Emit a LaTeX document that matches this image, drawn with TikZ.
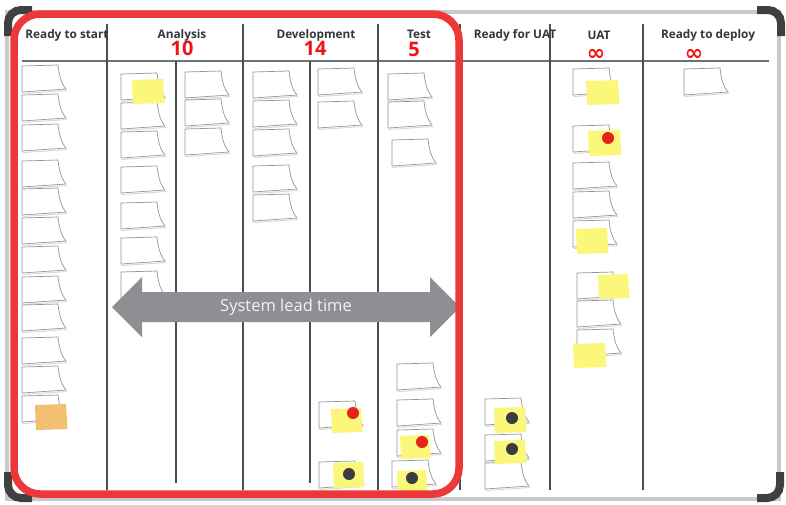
\documentclass[tikz,border=0pt]{standalone}
\usepackage{fontspec}
\setmainfont{Open Sans}
\newfontfamily\symfont{DejaVu Sans}
\definecolor{boardgray}{RGB}{201,201,201}
\definecolor{capgray}{RGB}{64,64,64}
\definecolor{linecol}{RGB}{70,80,85}
\definecolor{hdrline}{RGB}{105,115,120}
\definecolor{hdrtext}{RGB}{50,56,60}
\definecolor{numred}{RGB}{240,20,20}
\definecolor{frame}{RGB}{236,56,56}
\definecolor{notegray}{RGB}{150,150,150}
\definecolor{shadowgray}{RGB}{215,215,215}
\definecolor{yel}{RGB}{251,247,122}
\definecolor{orange}{RGB}{240,192,112}
\definecolor{pinred}{RGB}{228,34,30}
\definecolor{pinblack}{RGB}{58,60,64}
\definecolor{arrowcol}{RGB}{142,143,147}
\definecolor{arrtextcol}{RGB}{242,242,242}
\tikzset{
  notestyle/.style={draw=notegray, fill=white, line width=0.7pt},
  noteshadow/.style={draw=shadowgray, line width=0.9pt},
  wnote/.pic={
    \draw[noteshadow] (1,2) -- (1,27.5) -- (45,24.5);
    \filldraw[notestyle] (0,0) -- (36,-1) .. controls (37,9) and (39,17) .. (44,23) -- (0,26) -- cycle;
  },
  colline/.style={draw=linecol, line width=1.3pt},
  hdr/.style={text=hdrtext, font=\bfseries\fontsize{11.8}{13}\selectfont, inner sep=0pt},
  num/.style={text=numred, font=\bfseries\fontsize{20}{22}\selectfont, inner sep=0pt, anchor=base, text height=14pt, text depth=0pt},
  inf/.style={text=numred, font=\symfont\bfseries\fontsize{22}{22}\selectfont, inner sep=0pt, anchor=base, text height=12pt, text depth=0pt},
  arrtext/.style={text=arrtextcol, font=\fontsize{16.5}{18}\selectfont, inner sep=0pt},
  capstyle/.style={draw=capgray, line width=8pt, rounded corners=13pt},
}
\newcommand\ynote[5][yel]{\fill[#1] (#2,#3+1) -- (#4,#3) -- (#4+1.5,#5) -- (#2+1,#5+1) -- cycle;}
\newcommand\pinr[2]{\fill[pinred] (#1,#2) circle (6);}
\newcommand\pinb[2]{\fill[pinblack] (#1,#2) circle (6);}
\begin{document}
\begin{tikzpicture}[x=1pt,y=-1pt]
\useasboundingbox (0,0) rectangle (786,504);
\fill[white] (0,0) rectangle (786,504);
% board
\draw[draw=boardgray, line width=4pt] (7,12) rectangle (779,499);
% corner caps
\draw[capstyle] (8,36) -- (8,10) -- (32,10);
\draw[capstyle] (757,10) -- (781,10) -- (781,36);
\draw[capstyle] (8,472) -- (8,498) -- (32,498);
\draw[capstyle] (757,498) -- (780,498) -- (780,472);
% header line and column lines
\draw[draw=hdrline, line width=2pt] (22,61) -- (769,61);
\foreach \xx in {107,243,378,460,550,643} {\draw[colline] (\xx,24) -- (\xx,490);}
\foreach \xx in {176,310} {\draw[colline] (\xx,61) -- (\xx,483);}
% headers
\node[hdr] (h1) at (67,35) {Ready to start};
\node[hdr] (h2) at (182,35) {Analysis};
\node[hdr] (h3) at (316,35) {Development};
\node[hdr] (h4) at (419,34) {Test};
\node[hdr] (h5) at (515,35) {Ready for UAT};
\node[hdr] (h6) at (599,35) {UAT};
\node[hdr] (h7) at (708,35) {Ready to deploy};
\node[num] (n1) at (182,55) {10};
\node[num] (n2) at (315,55) {14};
\node[num] (n3) at (414,56.5) {5};
\node[inf] (i1) at (596,60) {∞};
\node[inf] (i2) at (694,60) {∞};
% white notes
\foreach \yy in {66,95,125,161,189,218,247,277,305,338,367,396} {\pic at (22,\yy) {wnote};}
\foreach \yy in {74,103,132,167,203,238,272} {\pic at (121,\yy) {wnote};}
\foreach \yy in {72,100,129} {\pic at (185,\yy) {wnote};}
\foreach \yy in {72,101,130,166,195} {\pic at (253,\yy) {wnote};}
\foreach \yy in {69,102} {\pic at (318,\yy) {wnote};}
\foreach \yy in {402,462} {\pic at (319,\yy) {wnote};}
\foreach \yy in {74,102} {\pic at (388,\yy) {wnote};}
\pic at (392,140) {wnote};
\foreach \yy in {364,400,430} {\pic at (397,\yy) {wnote};}
\pic at (392,461) {wnote};
\foreach \yy in {399,435,463} {\pic at (485,\yy) {wnote};}
\foreach \yy in {69,126,163,192,221} {\pic at (573,\yy) {wnote};}
\foreach \yy in {273,301,330} {\pic at (577,\yy) {wnote};}
\pic at (684,69) {wnote};
% yellow / orange notes
\ynote{132}{79}{163}{103}
\ynote[orange]{35}{404}{66}{429}
\ynote{586}{80}{618}{104}
\ynote{588}{130}{620}{155}
\ynote{576}{228}{607}{253}
\ynote{598}{274}{628}{298}
\ynote{573}{343}{605}{367}
\ynote{331}{408}{361}{432}
\ynote{333}{462}{363}{487}
\ynote{400}{435}{429}{458}
\ynote{397}{470}{426}{492}
\ynote{494}{407}{525}{432}
\ynote{494}{440}{525}{463}
% pins
\pinr{608}{138}
\pinr{353}{413}
\pinr{422}{442}
\pinb{349}{474}
\pinb{412}{478}
\pinb{512}{418}
\pinb{512}{449}
% lead time arrow
\fill[arrowcol] (112,307) -- (142,277) -- (142,292) -- (430,292) -- (430,277) -- (460,307) -- (430,337) -- (430,322) -- (142,322) -- (142,337) -- cycle;
\node[arrtext] (lt) at (286,307) {System lead time};
% red frame
\draw[draw=frame, line width=7.5pt, rounded corners=26pt] (14,14) rectangle (459,494);
\end{tikzpicture}
\end{document}
